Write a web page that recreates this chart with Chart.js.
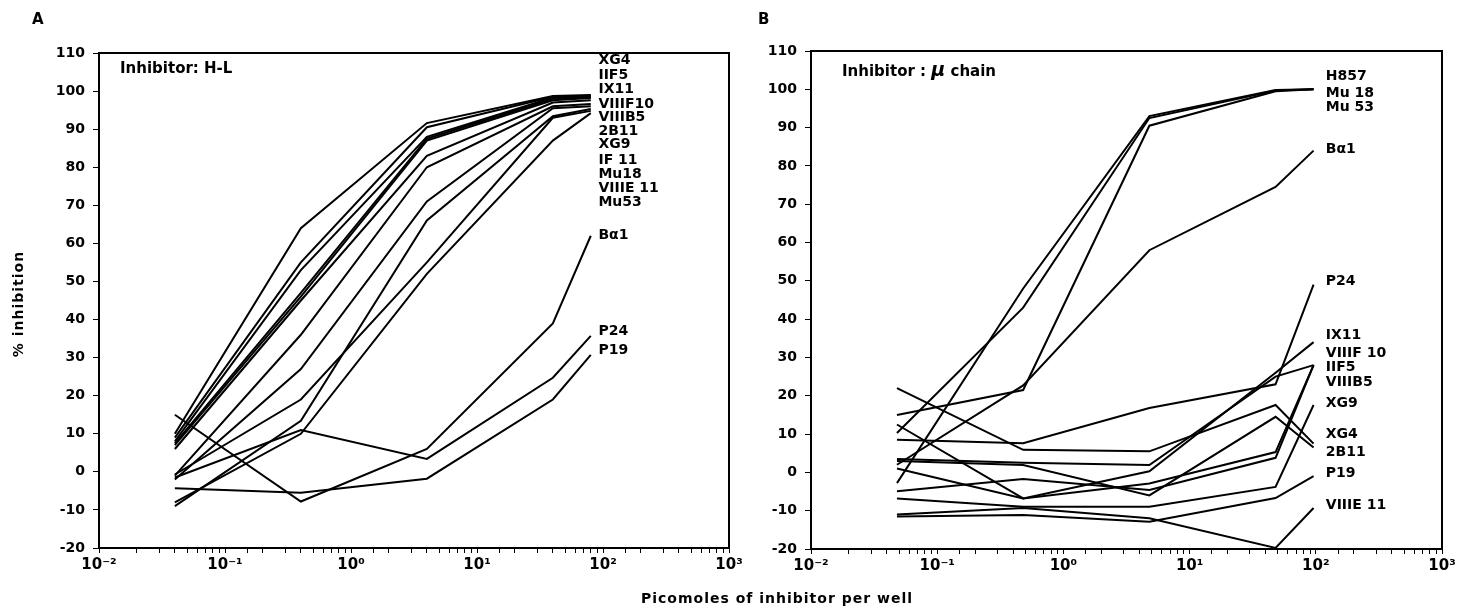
<!DOCTYPE html>
<html>
<head>
<meta charset="utf-8">
<script src="https://cdn.jsdelivr.net/npm/chart.js@4.4.0/dist/chart.umd.min.js"></script>
<style>
  body { margin: 0; background: #fff; width: 1463px; height: 610px; position: relative; overflow: hidden; font-family: "DejaVu Sans", sans-serif; }
  canvas { position: absolute; top: 0; }
  #chartA { left: 0; }
  #chartB { left: 720px; }
  .txt { position: absolute; font-weight: bold; color: #000; white-space: nowrap; }
</style>
</head>
<body>
<canvas id="chartA" width="760" height="610"></canvas>
<canvas id="chartB" width="743" height="610"></canvas>

<div class="txt" style="left:32px; top:10px; font-size:15px;">A</div>
<div class="txt" style="left:758px; top:10px; font-size:15px;">B</div>
<div class="txt" style="left:120px; top:59px; font-size:15px;">Inhibitor: H-L</div>
<div class="txt" style="left:842px; top:58px; font-size:15px;">Inhibitor : <i style="font-size:19px;">μ</i> chain</div>
<div class="txt" style="left:18px; top:304px; font-size:14px; letter-spacing:1px; transform:translate(-50%,-50%) rotate(-90deg);">% inhibition</div>
<div class="txt" style="left:777px; top:590px; font-size:14px; letter-spacing:1px; transform:translateX(-50%);">Picomoles of inhibitor per well</div>

<script>
// doses (picomoles per well)
const dosesA = [0.04, 0.4, 4, 40, 80];
const dosesB = [0.048, 0.48, 4.8, 48, 96];

// axis ticks
const decades = [0.01, 0.1, 1, 10, 100, 1000];
const decadeLabels = ['10⁻²', '10⁻¹', '10⁰', '10¹', '10²', '10³'];
const yMin = -20, yMax = 110, yStep = 10;

// panel A - inhibitor H-L
const namesA = ['XG4', 'IIF5', 'IX11', 'VIIIF10', 'VIIIB5', '2B11', 'XG9', 'IF 11', 'Mu18', 'VIIIE 11', 'Mu53', 'Bα1', 'P24', 'P19'];
const a_XG4     = [10, 64, 91.6, 98.7, 99];
const a_IIF5    = [9, 55, 90.5, 98.5, 98.8];
const a_IX11    = [8, 53, 88, 98.3, 98.6];
const a_VIIIF10 = [7.5, 47, 87.5, 98, 98.4];
const a_VIIIB5  = [7, 46, 87, 97.6, 98.2];
const a_2B11    = [6, 45, 83, 97, 97.6];
const a_XG9     = [-1, 36, 80, 96, 96.6];
const a_IF11    = [-2, 27, 71, 95.5, 96];
const a_Mu18    = [-9, 13.4, 66, 93.4, 95.3];
const a_VIIIE11 = [-0.7, 19, 55, 93, 94.8];
const a_Mu53    = [-8, 10, 52, 87, 94.2];
const a_Ba1     = [15, -7.8, 6, 39, 62];
const a_P24     = [-1.5, 11, 3.4, 24.7, 35.7];
const a_P19     = [-4.3, -5.5, -1.8, 19, 30.7];
const seriesA = [a_XG4, a_IIF5, a_IX11, a_VIIIF10, a_VIIIB5, a_2B11, a_XG9, a_IF11, a_Mu18, a_VIIIE11, a_Mu53, a_Ba1, a_P24, a_P19];
const labelValA = [108, 104, 100.5, 96.5, 93, 89.3, 86, 81.7, 78.2, 74.5, 70.8, 62, 37, 32];

// panel B - inhibitor mu chain
const namesB = ['H857', 'Mu 18', 'Mu 53', 'Bα1', 'P24', 'IX11', 'VIIIF 10', 'IIF5', 'VIIIB5', 'XG9', 'XG4', '2B11', 'P19', 'VIIIE 11'];
const b_H857    = [-2.8, 48, 93, 99.8, 100];
const b_Mu18    = [10.3, 43, 92.5, 99.7, 100];
const b_Mu53    = [15, 21.5, 90.5, 99.5, 100];
const b_Ba1     = [2, 22.7, 58, 74.5, 84];
const b_P24     = [8.5, 7.6, 16.8, 23, 49];
const b_IX11    = [12.5, -6.8, 0.3, 26, 34];
const b_VIIIF10 = [3.5, 2.5, 1.9, 25, 28];
const b_IIF5    = [1, -6.8, -2.9, 5.3, 28];
const b_VIIIB5  = [-4.9, -1.7, -4.6, 3.8, 28];
const b_XG9     = [-6.8, -9, -9, -3.8, 17.6];
const b_XG4     = [22, 5.9, 5.5, 17.6, 7.5];
const b_2B11    = [3, 1.9, -6, 14.5, 6.5];
const b_P19     = [-11.5, -11.1, -12.9, -6.7, -1];
const b_VIIIE11 = [-11, -9.3, -12, -19.7, -9.3];
const seriesB = [b_H857, b_Mu18, b_Mu53, b_Ba1, b_P24, b_IX11, b_VIIIF10, b_IIF5, b_VIIIB5, b_XG9, b_XG4, b_2B11, b_P19, b_VIIIE11];
const labelValB = [103.5, 99, 95.3, 84.4, 49.8, 35.9, 31.2, 27.5, 23.4, 18.1, 9.8, 5.3, -0.2, -8.5];

// where the name column starts (x in picomoles)
const labelDoseA = 92;
const labelDoseB = 120;

// draws the box round the plot and the names at the line ends
const framePlugin = {
  id: 'frame',
  afterDatasetsDraw(chart, args, opts) {
    const ctx = chart.ctx;
    const a = chart.chartArea;
    ctx.save();
    ctx.strokeStyle = '#000';
    ctx.lineWidth = 2;
    ctx.strokeRect(a.left, a.top, a.right - a.left, a.bottom - a.top);
    ctx.fillStyle = '#000';
    ctx.font = 'bold 14px "DejaVu Sans"';
    ctx.textAlign = 'left';
    ctx.textBaseline = 'middle';
    const x = chart.scales.x.getPixelForValue(opts.labelDose);
    opts.names.forEach(function(n, i) {
      ctx.fillText(n, x, chart.scales.y.getPixelForValue(opts.labelVals[i]));
    });
    ctx.restore();
  }
};

function makeChart(id, doses, series, names, labelVals, labelDose, yWidth, rightPad, xHeight, topPad) {
  const datasets = series.map(function(vals, i) {
    return {
      label: names[i],
      data: vals.map(function(v, j) { return { x: doses[j], y: v }; }),
      borderColor: '#000',
      borderWidth: 2,
      pointRadius: 0,
      tension: 0,
      fill: false
    };
  });
  return new Chart(document.getElementById(id), {
    type: 'line',
    data: { datasets: datasets },
    plugins: [framePlugin],
    options: {
      responsive: false,
      animation: false,
      layout: { padding: { top: topPad, right: rightPad, left: 0, bottom: 0 } },
      plugins: {
        legend: { display: false },
        tooltip: { enabled: false },
        frame: { names: names, labelVals: labelVals, labelDose: labelDose }
      },
      scales: {
        x: {
          type: 'logarithmic',
          min: 0.01,
          max: 1000,
          afterFit: function(s) { s.height = xHeight; },
          grid: { drawOnChartArea: false, color: '#000', tickLength: 5 },
          border: { color: '#000', width: 2 },
          ticks: {
            autoSkip: false,
            maxRotation: 0,
            padding: 3,
            color: '#000',
            font: { family: 'DejaVu Sans', size: 15, weight: 'bold' },
            callback: function(value) {
              const i = decades.findIndex(function(d) { return Math.abs(Math.log10(value) - Math.log10(d)) < 1e-6; });
              return i >= 0 ? decadeLabels[i] : '';
            }
          }
        },
        y: {
          min: yMin,
          max: yMax,
          afterFit: function(s) { s.width = yWidth; },
          grid: { drawOnChartArea: false, color: '#000', tickLength: 6 },
          border: { color: '#000', width: 2 },
          ticks: {
            stepSize: yStep,
            padding: 8,
            color: '#000',
            font: { family: 'DejaVu Sans', size: 14, weight: 'bold' }
          }
        }
      }
    }
  });
}

makeChart('chartA', dosesA, seriesA, namesA, labelValA, labelDoseA, 99, 31, 62, 53);
makeChart('chartB', dosesB, seriesB, namesB, labelValB, labelDoseB, 91, 21, 61, 51);
</script>
</body>
</html>
